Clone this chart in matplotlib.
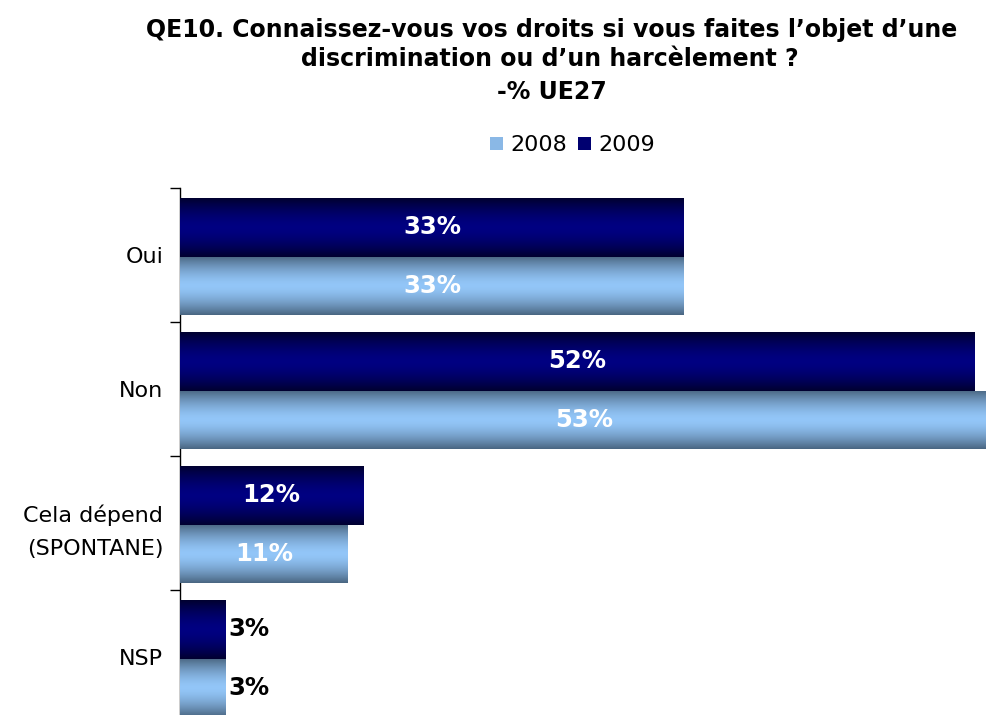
import matplotlib.pyplot as plt
import numpy as np
from matplotlib.patches import Patch

# Données
categories = ["Oui", "Non", "Cela dépend\n(SPONTANE)", "NSP"]
v2008 = [33, 53, 11, 3]
v2009 = [33, 52, 12, 3]
labels_2008 = ["33%", "53%", "11%", "3%"]
labels_2009 = ["33%", "52%", "12%", "3%"]

fig = plt.figure(figsize=(9.87, 7.15), dpi=100)
ax = fig.add_axes([180 / 987, 0, 807 / 987, 527 / 715])

band = 134.0
bh = 58.5 / band
y = np.arange(len(categories))
yc = y + 0.012


def gradient_bars(ypos, vals, edge, center):
    bars = ax.barh(ypos, vals, height=bh, color=center, edgecolor="none", zorder=2)
    c0 = np.array(plt.matplotlib.colors.to_rgb(edge))
    c1 = np.array(plt.matplotlib.colors.to_rgb(center))
    t = np.linspace(0, 1, 100)
    w = 1 - np.abs(2 * t - 1) ** 1.6
    grad = (c0[None, :] * (1 - w[:, None]) + c1[None, :] * w[:, None])[:, None, :]
    for b in bars:
        x0, yb = b.get_x(), b.get_y()
        im = ax.imshow(grad, extent=[x0, x0 + b.get_width(), yb + b.get_height(), yb],
                       aspect="auto", zorder=3, interpolation="bilinear")
        im.set_clip_path(b)
    return bars


b09 = gradient_bars(yc - bh / 2, v2009, "#000030", "#000082")
b08 = gradient_bars(yc + bh / 2, v2008, "#4a6682", "#93c6f8")

for i in range(len(categories)):
    for yy, v, lab in [(yc[i] - bh / 2, v2009[i], labels_2009[i]), (yc[i] + bh / 2, v2008[i], labels_2008[i])]:
        if v > 6:
            ax.text(v / 2, yy, lab, ha="center", va="center", color="white",
                    fontsize=17.5, fontweight="bold", zorder=5)
        else:
            ax.text(v + 0.2, yy, lab, ha="left", va="center", color="black",
                    fontsize=17.5, fontweight="bold", zorder=5)

ax.set_yticks(y)
ax.set_yticklabels(categories, fontsize=16, linespacing=1.85)
ax.set_yticks(np.arange(-0.5, len(categories)), minor=True)
ax.tick_params(axis="y", which="major", length=0, pad=12)
ax.tick_params(axis="y", which="minor", length=7, width=1, direction="out")
ax.set_xticks([])
# limites après les ticks (set_yticks élargit la vue)
ax.set_xlim(0, 807 / 15.27)
ax.set_ylim(-0.5 + 527 / band, -0.5)
for s in ["top", "right", "bottom"]:
    ax.spines[s].set_visible(False)
ax.spines["left"].set_linewidth(1)
ax.set_facecolor("none")

fig.text(0.559, 0.958, "QE10. Connaissez-vous vos droits si vous faites l’objet d’une",
         ha="center", va="center", fontsize=17, fontweight="bold")
fig.text(0.557, 0.9175, "discrimination ou d’un harcèlement ?",
         ha="center", va="center", fontsize=17, fontweight="bold")
fig.text(0.559, 0.871, "-% UE27", ha="center", va="center", fontsize=17, fontweight="bold")

handles = [Patch(facecolor="#8ab8e6", label="2008"), Patch(facecolor="#000070", label="2009")]
fig.legend(handles=handles, loc="center", bbox_to_anchor=(0.58, 0.797), ncol=2, frameon=False,
           fontsize=16, handlelength=0.6, handleheight=0.5, handletextpad=0.3, columnspacing=0.5)

fig.savefig("out.png", dpi=100)
